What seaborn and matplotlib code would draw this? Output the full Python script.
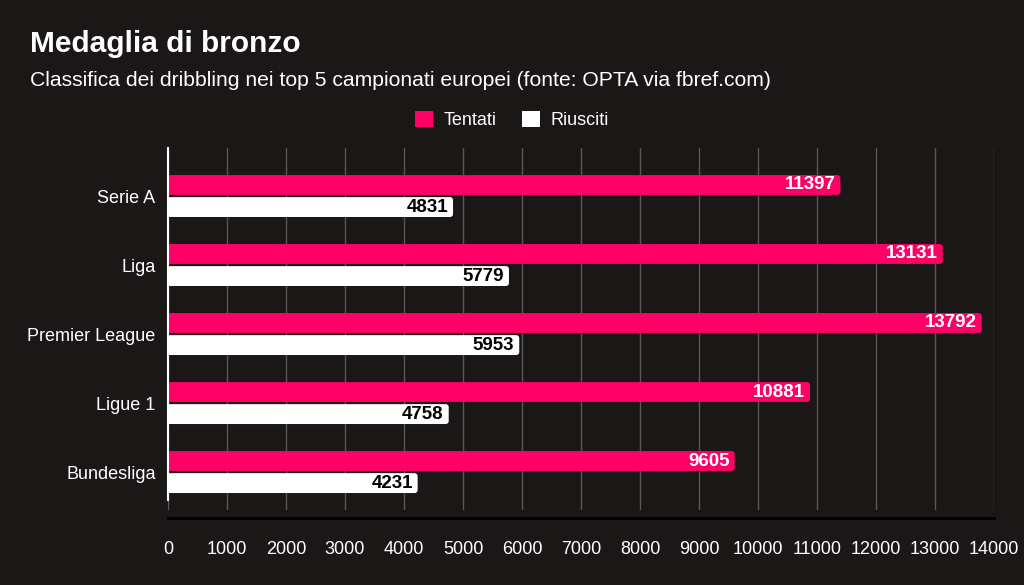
import pandas as pd
import matplotlib.pyplot as plt
import seaborn as sns
from matplotlib.patches import Patch, FancyBboxPatch

leghe = ["Serie A", "Liga", "Premier League", "Ligue 1", "Bundesliga"]
tentati = [11397, 13131, 13792, 10881, 9605]
riusciti = [4831, 5779, 5953, 4758, 4231]
xticks = list(range(0, 14001, 1000))

bg = "#1a1716"
pink = "#ff0066"

df = pd.DataFrame({
    "lega": leghe * 2,
    "tipo": ["Tentati"] * len(leghe) + ["Riusciti"] * len(leghe),
    "valore": tentati + riusciti,
})

sns.set_style("dark")
plt.rcParams["font.family"] = ["Liberation Sans", "DejaVu Sans"]

fig = plt.figure(figsize=(10.24, 5.85), dpi=100, facecolor=bg)
ax = fig.add_axes([168 / 1024, 1 - 510 / 585, (994 - 168) / 1024, (510 - 148) / 585])
ax.set_facecolor(bg)

sns.barplot(data=df, y="lega", x="valore", hue="tipo", orient="h",
            palette=[pink, "white"], saturation=1, width=0.64, gap=0.1,
            edgecolor="none", linewidth=0, legend=False, ax=ax)

ax.set_xlim(0, 14000)
ax.set_ylim(4.55, -0.696)
ax.set_xticks(xticks)
ax.set_xlabel("")
ax.set_ylabel("")

# grid
ax.grid(axis="x", color="#5a5757", linewidth=1)
ax.grid(axis="y", visible=False)
ax.set_axisbelow(True)

for s in ["top", "right"]:
    ax.spines[s].set_visible(False)
ax.spines["left"].set_color("white")
ax.spines["left"].set_linewidth(1.5)
ax.spines["left"].set_bounds(4.41, -0.696)
ax.spines["left"].set_zorder(5)
ax.spines["bottom"].set_color("black")
ax.spines["bottom"].set_linewidth(2)
ax.spines["bottom"].set_position(("outward", 6))

ax.tick_params(axis="x", colors="black", direction="inout", length=12, width=1.5,
               labelcolor="white", labelsize=13, pad=10)
ax.tick_params(axis="y", length=0, labelcolor="white", labelsize=13, pad=9)

# px -> data units, for rounded bar corners
px_x = 14000 / (994 - 168)
px_y = (4.55 + 0.696) / (510 - 148)
r = 3 * px_x

bars = [p for p in ax.patches if p.get_width() > 0]
for p in bars:
    w = p.get_width()
    y0, h = p.get_y(), p.get_height()
    fc = p.get_facecolor()
    is_pink = fc[1] < 0.5
    p.remove()
    # start left of 0 so only the right corners look rounded (clipped by the axes)
    ax.add_patch(FancyBboxPatch((-2 * r, y0), w + 2 * r, h,
                                boxstyle=f"round,pad=0,rounding_size={r}",
                                mutation_aspect=px_y / px_x, facecolor=fc, edgecolor="none",
                                zorder=2))
    # value labels inside the bar ends
    ax.annotate(f"{int(round(w))}", (w, y0 + h / 2),
                xytext=(-3.5, 0), textcoords="offset points", ha="right", va="center",
                color="white" if is_pink else "black", fontsize=13.5, fontweight="bold",
                zorder=3)

handles = [Patch(facecolor=pink, edgecolor="none", label="Tentati"),
           Patch(facecolor="white", edgecolor="none", label="Riusciti")]
leg = fig.legend(handles=handles, loc="center", bbox_to_anchor=(0.5, 1 - 120 / 585), ncol=2,
                 frameon=False, fontsize=13, handlelength=1.0, handleheight=1.0,
                 handletextpad=0.6, columnspacing=1.4)
for t in leg.get_texts():
    t.set_color("white")

fig.text(30 / 1024, 1 - 44 / 585, "Medaglia di bronzo", color="white", fontsize=21.5,
         fontweight="bold", va="center", ha="left")
fig.text(30 / 1024, 1 - 80 / 585,
         "Classifica dei dribbling nei top 5 campionati europei (fonte: OPTA via fbref.com)",
         color="white", fontsize=15.2, va="center", ha="left")

fig.savefig("out.png", dpi=100, facecolor=bg)
